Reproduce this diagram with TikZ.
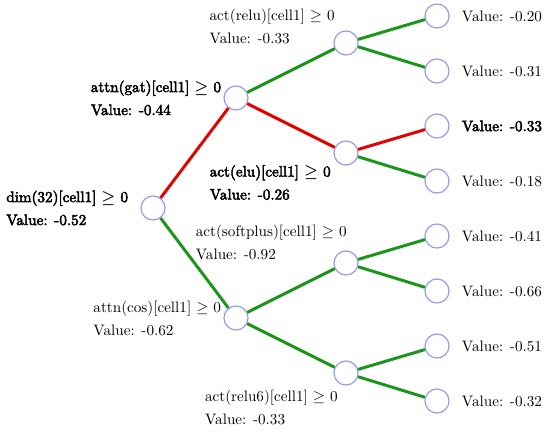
\documentclass[tikz,border=0pt]{standalone}
\usepackage{fontspec}
\usetikzlibrary{positioning}
\newfontfamily\fakebf[FakeBold=3]{lmroman10-regular.otf}
\definecolor{splitgreen}{RGB}{26,150,26}
\definecolor{splitred}{RGB}{230,0,0}
\definecolor{nodeblue}{RGB}{150,150,240}

\begin{document}
\begin{tikzpicture}[
    x=0.64pt, y=-0.64pt,
    tnode/.style={circle,draw=nodeblue,line width=0.75pt,minimum size=15.4pt,inner sep=0pt},
    info/.style={align=left,inner sep=0pt,font=\fontsize{9.7}{14.7}\selectfont},
    hot/.style={align=left,inner sep=0pt,font=\fontsize{9.7}{14.7}\selectfont\fakebf},
    greenedge/.style={draw=splitgreen,line width=1.9pt},
    rededge/.style={draw=splitred,line width=1.9pt}
]
    \useasboundingbox (0,0) rectangle (544,432);

    % Nodes
    \node[tnode] (root) at (153,208) {};
    \node[tnode] (gat) at (236,98) {};
    \node[tnode] (cos) at (236,318) {};
    \node[tnode] (relu) at (346,43) {};
    \node[tnode] (elu) at (346,153) {};
    \node[tnode] (softplus) at (346,263) {};
    \node[tnode] (relusix) at (346,373) {};
    \node[tnode] (l1) at (437,16) {};
    \node[tnode] (l2) at (437,71) {};
    \node[tnode] (l3) at (437,126) {};
    \node[tnode] (l4) at (437,181) {};
    \node[tnode] (l5) at (437,236) {};
    \node[tnode] (l6) at (437,291) {};
    \node[tnode] (l7) at (437,346) {};
    \node[tnode] (l8) at (437,401) {};

    % Labels
    \node[hot] (rootlab) [left=7.7pt of root] {dim(32)[cell1] {\boldmath$\geq$} 0\\Value: -0.52};
    \node[hot] (gatlab) [left=1.3pt of gat] {attn(gat)[cell1] {\boldmath$\geq$} 0\\Value: -0.44};
    \node[info] (coslab) [left=1.3pt of cos] {attn(cos)[cell1] $\geq$ 0\\Value: -0.62};
    \node[info,anchor=east] (relulab) at (335,26.5) {act(relu)[cell1] $\geq$ 0\\Value: -0.33};
    \node[hot,anchor=east] (elulab) at (331,182.5) {act(elu)[cell1] {\boldmath$\geq$} 0\\Value: -0.26};
    \node[info,anchor=east] (softpluslab) at (347,242.5) {act(softplus)[cell1] $\geq$ 0\\Value: -0.92};
    \node[info,anchor=east] (relusixlab) at (338,407.5) {act(relu6)[cell1] $\geq$ 0\\Value: -0.33};
    \node[info] (v1) [right=7.7pt of l1] {Value: -0.20};
    \node[info] (v2) [right=7.7pt of l2] {Value: -0.31};
    \node[hot] (v3) [right=7.7pt of l3] {Value: -0.33};
    \node[info] (v4) [right=7.7pt of l4] {Value: -0.18};
    \node[info] (v5) [right=7.7pt of l5] {Value: -0.41};
    \node[info] (v6) [right=7.7pt of l6] {Value: -0.66};
    \node[info] (v7) [right=7.7pt of l7] {Value: -0.51};
    \node[info] (v8) [right=7.7pt of l8] {Value: -0.32};

    % Edges
    \draw[rededge] (root) -- (gat);
    \draw[greenedge] (root) -- (cos);
    \draw[greenedge] (gat) -- (relu);
    \draw[rededge] (gat) -- (elu);
    \draw[greenedge] (cos) -- (softplus);
    \draw[greenedge] (cos) -- (relusix);
    \draw[greenedge] (relu) -- (l1);
    \draw[greenedge] (relu) -- (l2);
    \draw[rededge] (elu) -- (l3);
    \draw[greenedge] (elu) -- (l4);
    \draw[greenedge] (softplus) -- (l5);
    \draw[greenedge] (softplus) -- (l6);
    \draw[greenedge] (relusix) -- (l7);
    \draw[greenedge] (relusix) -- (l8);
\end{tikzpicture}
\end{document}
